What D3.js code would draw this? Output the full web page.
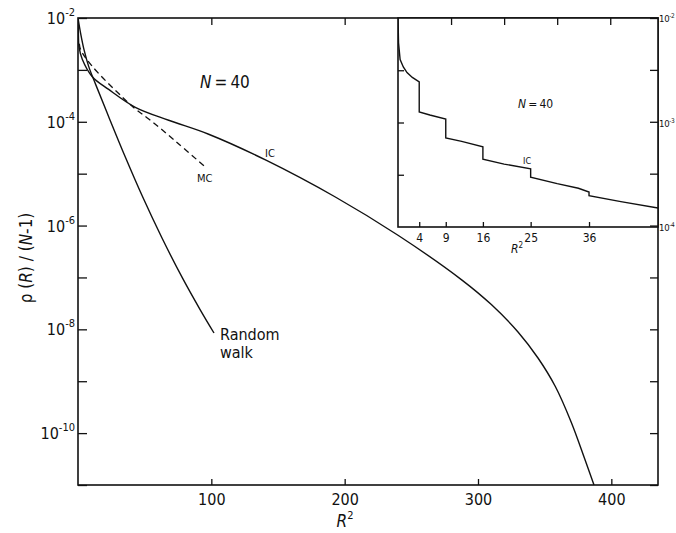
<!DOCTYPE html>
<html>
<head>
<meta charset="utf-8">
<script src="https://cdn.jsdelivr.net/npm/d3@7"></script>
<style>
  body { margin: 0; background: #fff; }
  svg { display: block; }
  text { font-family: "DejaVu Sans Condensed", "Liberation Sans Narrow", "DejaVu Sans", sans-serif; fill: #111; }
</style>
</head>
<body>
<svg id="chart" width="676" height="533"></svg>
<script>
// ---------- data ----------
// Main panel: rho(R)/(N-1) vs R^2, N = 40
const icR2   = [0, 0.3, 0.75, 3.2, 10.7, 23, 43, 68, 98, 141, 193, 240, 288, 310, 330, 345, 358, 370, 380, 387];
const icVal  = [1e-2, 5.0e-3, 2.8e-3, 1.6e-3, 7.4e-4, 4.2e-4, 1.9e-4, 1.07e-4, 5.75e-5, 1.82e-5, 3.55e-6, 6.5e-7, 8.9e-8, 3.0e-8, 8.9e-9, 2.8e-9, 7.9e-10, 1.6e-10, 3.2e-11, 1e-11];

const mcR2   = [1, 2, 10.7, 33.2, 43.3, 53.3, 73.3, 95.8];
const mcVal  = [3.2e-3, 2.45e-3, 1.17e-3, 3.0e-4, 1.74e-4, 1.12e-4, 4.2e-5, 1.32e-5];

const rwR2   = [0, 2, 4.5, 8, 13.3, 23.3, 35.8, 48.2, 63, 78.3, 92, 102];
const rwVal  = [1e-2, 5.0e-3, 2.45e-3, 1.17e-3, 5.2e-4, 1.2e-4, 2.0e-5, 3.7e-6, 5.75e-7, 9.8e-8, 2.3e-8, 8.5e-9];

// Inset: IC at small R^2
const insR2  = [0, 0.1, 0.4, 1, 1.7, 2.7, 4, 4, 6, 9, 9, 12, 16, 16, 20, 25, 25, 30, 34, 36, 36, 42, 49];
const insVal = [1e-2, 5.8e-3, 4.0e-3, 3.4e-3, 3.0e-3, 2.7e-3, 2.45e-3, 1.26e-3, 1.18e-3, 1.08e-3, 7.1e-4, 6.6e-4, 5.85e-4, 4.45e-4, 4.0e-4, 3.6e-4, 3.0e-4, 2.6e-4, 2.35e-4, 2.16e-4, 1.99e-4, 1.75e-4, 1.52e-4];

// ticks
const xTicks       = [100, 200, 300, 400];
const xTopTicks    = [100, 200];
const yTickExps    = [-2, -3, -4, -5, -6, -7, -8, -9, -10, -11];
const yLabelExps   = [-2, -4, -6, -8, -10];
const insXTicks    = [4, 9, 16, 25, 36];
const insXTopTicks = [10, 20, 30, 40];
const insYLabelExps = [-2, -3, -4];
const insYTicks    = [Math.pow(10, -2.5), 1e-3, Math.pow(10, -3.5)];

// ---------- layout ----------
const svg = d3.select("#chart");
const M = { l: 78, r: 658, t: 18, b: 485 };
const I = { l: 398, r: 658, t: 18, b: 227 };

const x = d3.scaleLinear().domain([0, 435]).range([M.l, M.r]);
const y = d3.scaleLog().domain([1e-11, 1e-2]).range([M.b, M.t]);
const xi = d3.scaleLinear().domain([0, 49]).range([I.l, I.r]);
const yi = d3.scaleLog().domain([1e-4, 1e-2]).range([I.b, I.t]);

const ink = "#111";

svg.append("clipPath").attr("id", "cm").append("rect")
  .attr("x", M.l).attr("y", M.t).attr("width", M.r - M.l).attr("height", M.b - M.t);
svg.append("clipPath").attr("id", "ci").append("rect")
  .attr("x", I.l).attr("y", I.t).attr("width", I.r - I.l).attr("height", I.b - I.t);

const zip = (a, b) => a.map((v, i) => [v, b[i]]);
const lineMain = d3.line().x(d => x(d[0])).y(d => y(d[1])).curve(d3.curveCatmullRom.alpha(0.5));

const gm = svg.append("g").attr("clip-path", "url(#cm)");
gm.append("path").attr("d", lineMain(zip(icR2, icVal)))
  .attr("fill", "none").attr("stroke", ink).attr("stroke-width", 1.4);
gm.append("path").attr("d", lineMain(zip(rwR2, rwVal)))
  .attr("fill", "none").attr("stroke", ink).attr("stroke-width", 1.4);
gm.append("path").attr("d", lineMain(zip(mcR2, mcVal)))
  .attr("fill", "none").attr("stroke", ink).attr("stroke-width", 1.3)
  .attr("stroke-dasharray", "6,4");

// main axes
const axB = svg.append("g").attr("transform", `translate(0,${M.b})`)
  .call(d3.axisBottom(x).tickValues(xTicks).tickSize(-6).tickPadding(9).tickFormat(d3.format("d")));
const axT = svg.append("g").attr("transform", `translate(0,${M.t})`)
  .call(d3.axisTop(x).tickValues(xTopTicks).tickSize(-7).tickFormat(""));
const axL = svg.append("g").attr("transform", `translate(${M.l},0)`)
  .call(d3.axisLeft(y).tickValues(yTickExps.map(e => Math.pow(10, e))).tickSize(-9).tickFormat(""));
const axR = svg.append("g").attr("transform", `translate(${M.r},0)`)
  .call(d3.axisRight(y).tickValues(yTickExps.map(e => Math.pow(10, e))).tickSize(-8).tickFormat(""));
[axB, axT, axL, axR].forEach(g => {
  g.select(".domain").remove();
  g.selectAll("line").attr("stroke", ink).attr("stroke-width", 1.3);
});
axB.selectAll("text").attr("font-size", 16).attr("fill", ink)
  .attr("font-family", '"DejaVu Sans Condensed", "DejaVu Sans", sans-serif');

svg.append("rect").attr("x", M.l).attr("y", M.t).attr("width", M.r - M.l).attr("height", M.b - M.t)
  .attr("fill", "none").attr("stroke", ink).attr("stroke-width", 1.6);

// y tick labels with superscripts
const yl = svg.append("g");
yLabelExps.forEach(e => {
  const t = yl.append("text").attr("x", M.l - 3).attr("y", y(Math.pow(10, e)) + 6)
    .attr("text-anchor", "end").attr("font-size", 16);
  t.append("tspan").text("10");
  t.append("tspan").attr("dy", -8).attr("font-size", 11).text("-" + (-e));
});

// axis titles
const xt = svg.append("text").attr("x", 345).attr("y", 527).attr("text-anchor", "middle").attr("font-size", 17);
xt.append("tspan").attr("font-style", "italic").text("R");
xt.append("tspan").attr("dy", -8).attr("font-size", 11).text("2");

const yt = svg.append("text").attr("transform", "translate(32,258) rotate(-90)")
  .attr("text-anchor", "middle").attr("font-size", 17);
yt.append("tspan").text("ρ (");
yt.append("tspan").attr("font-style", "italic").text("R");
yt.append("tspan").text(") / (");
yt.append("tspan").attr("font-style", "italic").text("N");
yt.append("tspan").text("-1)");

// annotations main
const n1 = svg.append("text").attr("x", 200).attr("y", 88).attr("font-size", 17);
n1.append("tspan").attr("font-style", "italic").text("N");
n1.append("tspan").text("\u2009=\u200940");
svg.append("text").attr("x", 265).attr("y", 157).attr("font-size", 11).text("IC");
svg.append("text").attr("x", 197).attr("y", 182).attr("font-size", 11).text("MC");
svg.append("text").attr("x", 220).attr("y", 340).attr("font-size", 16).text("Random");
svg.append("text").attr("x", 220).attr("y", 358).attr("font-size", 16).text("walk");

// ---------- inset ----------
svg.append("rect").attr("x", I.l).attr("y", I.t).attr("width", I.r - I.l).attr("height", I.b - I.t)
  .attr("fill", "#fff").attr("stroke", "none");
const lineIns = d3.line().x(d => xi(d[0])).y(d => yi(d[1]));
svg.append("g").attr("clip-path", "url(#ci)").append("path")
  .attr("d", lineIns(zip(insR2, insVal)))
  .attr("fill", "none").attr("stroke", ink).attr("stroke-width", 1.4);

const iB = svg.append("g").attr("transform", `translate(0,${I.b})`)
  .call(d3.axisBottom(xi).tickValues(insXTicks).tickSize(-5).tickPadding(6).tickFormat(d3.format("d")));
const iT = svg.append("g").attr("transform", `translate(0,${I.t})`)
  .call(d3.axisTop(xi).tickValues(insXTopTicks).tickSize(-7).tickFormat(""));
const iL = svg.append("g").attr("transform", `translate(${I.l},0)`)
  .call(d3.axisLeft(yi).tickValues(insYTicks).tickSize(-6).tickFormat(""));
[iB, iT, iL].forEach(g => {
  g.select(".domain").remove();
  g.selectAll("line").attr("stroke", ink).attr("stroke-width", 1.3);
});
iB.selectAll("text").attr("font-size", 12).attr("fill", ink)
  .attr("font-family", '"DejaVu Sans Condensed", "DejaVu Sans", sans-serif');
svg.append("g").attr("transform", `translate(${M.r},0)`)
  .call(d3.axisRight(y).tickValues(yTickExps.map(e => Math.pow(10, e)).filter(v => y(v) <= I.b + 1)).tickSize(-8).tickFormat(""))
  .call(g => { g.select(".domain").remove(); g.selectAll("line").attr("stroke", ink).attr("stroke-width", 1.3); });

svg.append("rect").attr("x", I.l).attr("y", I.t).attr("width", I.r - I.l).attr("height", I.b - I.t)
  .attr("fill", "none").attr("stroke", ink).attr("stroke-width", 1.6);

// inset right labels
insYLabelExps.forEach(e => {
  const t = svg.append("text").attr("x", I.r + 1).attr("y", yi(Math.pow(10, e)) + 4)
    .attr("font-size", 9.5).attr("letter-spacing", -0.3);
  t.append("tspan").text("10");
  t.append("tspan").attr("dy", -4).attr("font-size", 6.5).text("-" + (-e));
});

const ixt = svg.append("text").attr("x", 517).attr("y", 253).attr("text-anchor", "middle").attr("font-size", 12);
ixt.append("tspan").attr("font-style", "italic").text("R");
ixt.append("tspan").attr("dy", -5).attr("font-size", 8).text("2");

const n2 = svg.append("text").attr("x", 518).attr("y", 108).attr("font-size", 12);
n2.append("tspan").attr("font-style", "italic").text("N");
n2.append("tspan").text("\u2009=\u200940");
svg.append("text").attr("x", 523).attr("y", 164).attr("font-size", 9).text("IC");
</script>
</body>
</html>
